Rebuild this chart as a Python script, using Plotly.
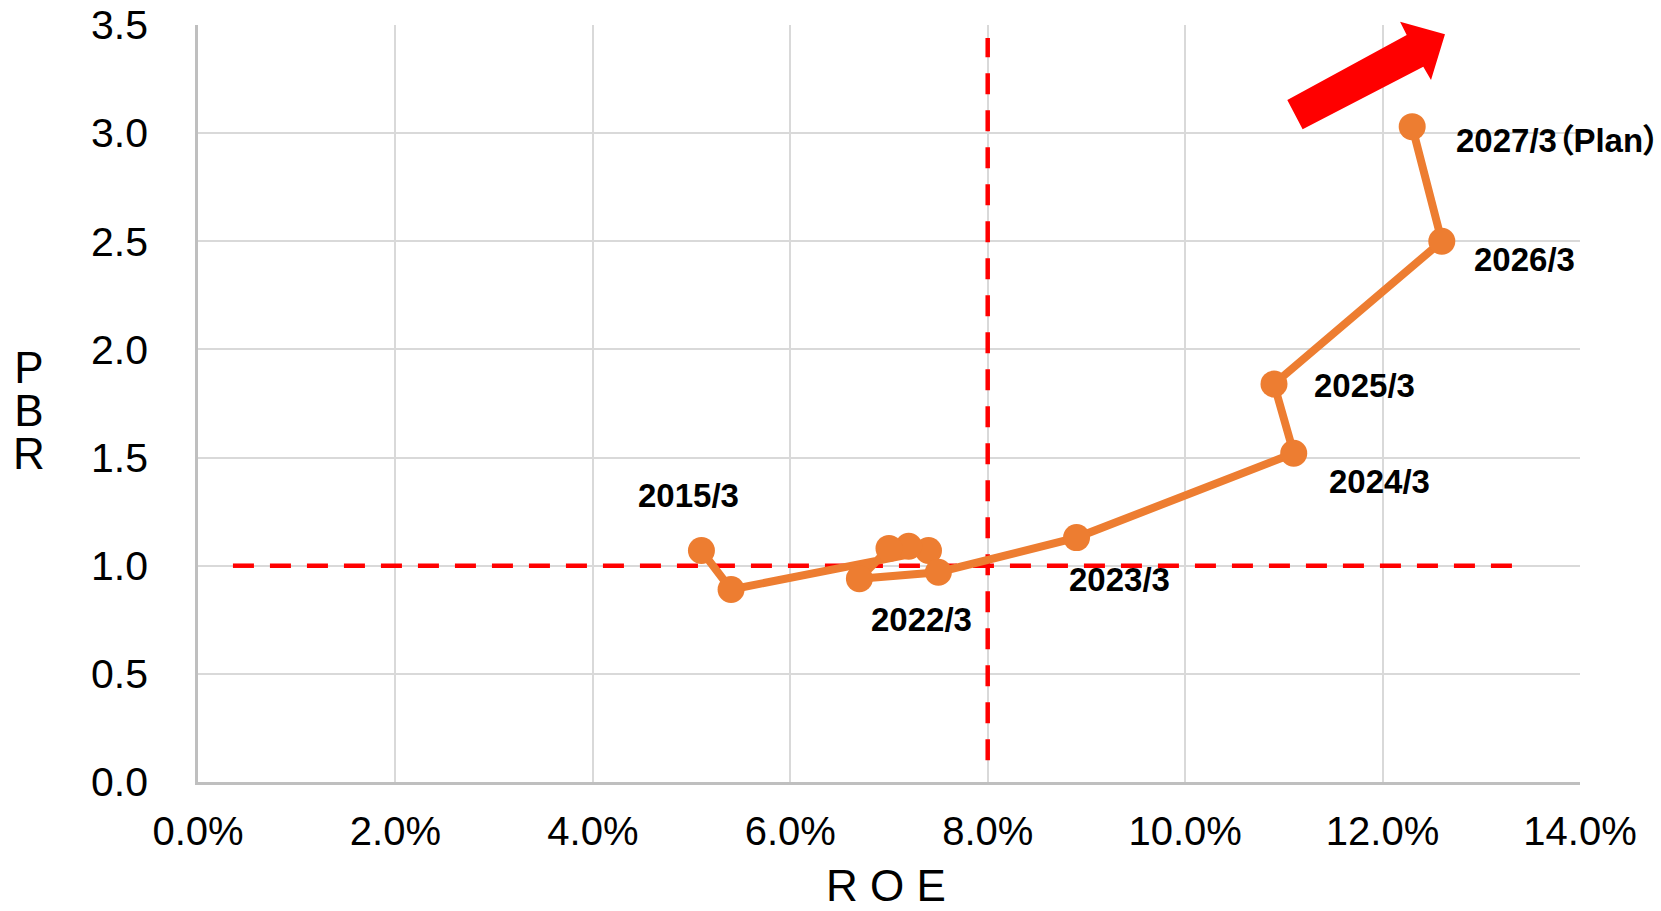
import plotly.graph_objects as go

# ROE (fraction) and PBR by fiscal year-end
roe = [0.051, 0.054, 0.074, 0.072, 0.070, 0.067, 0.075, 0.089, 0.111, 0.109, 0.126, 0.123]
pbr = [1.07, 0.89, 1.07, 1.09, 1.08, 0.94, 0.97, 1.13, 1.52, 1.84, 2.50, 3.03]
point_labels = ["2015/3", "", "", "", "", "", "2022/3", "2023/3", "2024/3",
                "2025/3", "2026/3", "2027/3（Plan）"]

x_ticks = [0.0, 0.02, 0.04, 0.06, 0.08, 0.10, 0.12, 0.14]
y_ticks = [0.0, 0.5, 1.0, 1.5, 2.0, 2.5, 3.0, 3.5]

# reference lines: PBR 1.0 and ROE 8%
pbr_ref = 1.0
roe_ref = 0.08

ORANGE = "#ED7D31"
RED = "#FF0000"
GRID = "#D9D9D9"
FONT = "Liberation Sans, Arial, Noto Sans CJK JP, sans-serif"

# plot area in pixels
W, H = 1661, 911
L, R, T, B = 198, 81, 25, 129
PW, PH = W - L - R, H - T - B


def px_to_paper(px, py):
    return (px - L) / PW, (H - B - py) / PH


fig = go.Figure()

# dashed reference lines
fig.add_trace(go.Scatter(
    x=[0.00354, 0.1344], y=[pbr_ref, pbr_ref], mode="lines",
    line=dict(color=RED, width=4.5, dash="21px,16px"),
    hoverinfo="skip", showlegend=False))
fig.add_trace(go.Scatter(
    x=[roe_ref, roe_ref], y=[0.1, 3.44], mode="lines",
    line=dict(color=RED, width=4.5, dash="21px,16px"),
    hoverinfo="skip", showlegend=False))

# ROE / PBR path
fig.add_trace(go.Scatter(
    x=roe, y=pbr, mode="lines+markers",
    line=dict(color=ORANGE, width=8),
    marker=dict(color=ORANGE, size=27),
    showlegend=False))

# label offsets in pixels (dx right, dy down) and anchoring
label_pos = {
    "2015/3": (-13, -55, "center"),
    "2022/3": (-17, 47, "center"),
    "2023/3": (43, 42, "center"),
    "2024/3": (86, 28, "center"),
    "2025/3": (91, 1, "center"),
    "2026/3": (83, 18, "center"),
    "2027/3（Plan）": (42, 14, "left"),
}
for xv, yv, lab in zip(roe, pbr, point_labels):
    if not lab:
        continue
    dx, dy, anchor = label_pos[lab]
    # proportional widths for the full-width parentheses
    shown = lab.replace("（", "<span style=\"font-feature-settings:'palt'\">（</span>")
    shown = shown.replace("）", "<span style=\"font-feature-settings:'palt'\">）</span>")
    fig.add_annotation(
        x=xv, y=yv, xref="x", yref="y", text=f"<b>{shown}</b>", showarrow=False,
        xanchor=anchor, yanchor="middle", xshift=dx, yshift=-dy,
        font=dict(family=FONT, size=33, color="#000000"))

# y-axis title: letters stacked one per line; the base size sets the
# tight line pitch, the spans enlarge the glyphs
pbr_title = "<br>".join(f'<span style="font-size:44px">{c}</span>' for c in "PBR")
ax, ay = px_to_paper(29, 410)
fig.add_annotation(
    x=ax, y=ay, xref="paper", yref="paper",
    text=pbr_title, showarrow=False, xanchor="center", yanchor="middle",
    font=dict(family=FONT, size=33, color="#000000"))

# x-axis title
tx, ty = px_to_paper(886, 886)
fig.add_annotation(
    x=tx, y=ty, xref="paper", yref="paper", text="R O E", showarrow=False,
    xanchor="center", yanchor="middle",
    font=dict(family=FONT, size=44, color="#000000"))

# big red arrow pointing up-right
arrow_px = [(1287.3, 100), (1406.7, 35), (1400, 21.7), (1445, 34.3),
            (1431, 80), (1423.3, 66.7), (1302.7, 129.3)]
arrow = [px_to_paper(*p) for p in arrow_px]
path = "M " + " L ".join(f"{ax:.4f},{ay:.4f}" for ax, ay in arrow) + " Z"

fig.update_layout(
    width=W, height=H,
    margin=dict(l=L, r=R, t=T, b=B),
    paper_bgcolor="white", plot_bgcolor="white",
    font=dict(family=FONT, color="#000000"),
    shapes=[dict(type="path", xref="paper", yref="paper", path=path,
                 fillcolor=RED, line=dict(width=0), layer="above")],
    xaxis=dict(
        range=[0, 0.14], tickvals=x_ticks, tickformat=".1%",
        showgrid=True, gridcolor=GRID, gridwidth=1.5,
        showline=True, linecolor="#BFBFBF", linewidth=2.5,
        zeroline=False, ticks="", ticklabelstandoff=12, automargin=False,
        tickfont=dict(family=FONT, size=40, color="#000000"),
    ),
    yaxis=dict(
        range=[0, 3.5], tickvals=y_ticks, tickformat=".1f",
        showgrid=True, gridcolor=GRID, gridwidth=1.5,
        showline=True, linecolor="#BFBFBF", linewidth=2.5,
        zeroline=False, ticks="", ticklabelstandoff=39, automargin=False,
        tickfont=dict(family=FONT, size=41, color="#000000"),
    ),
)

fig.write_html("out.html")
